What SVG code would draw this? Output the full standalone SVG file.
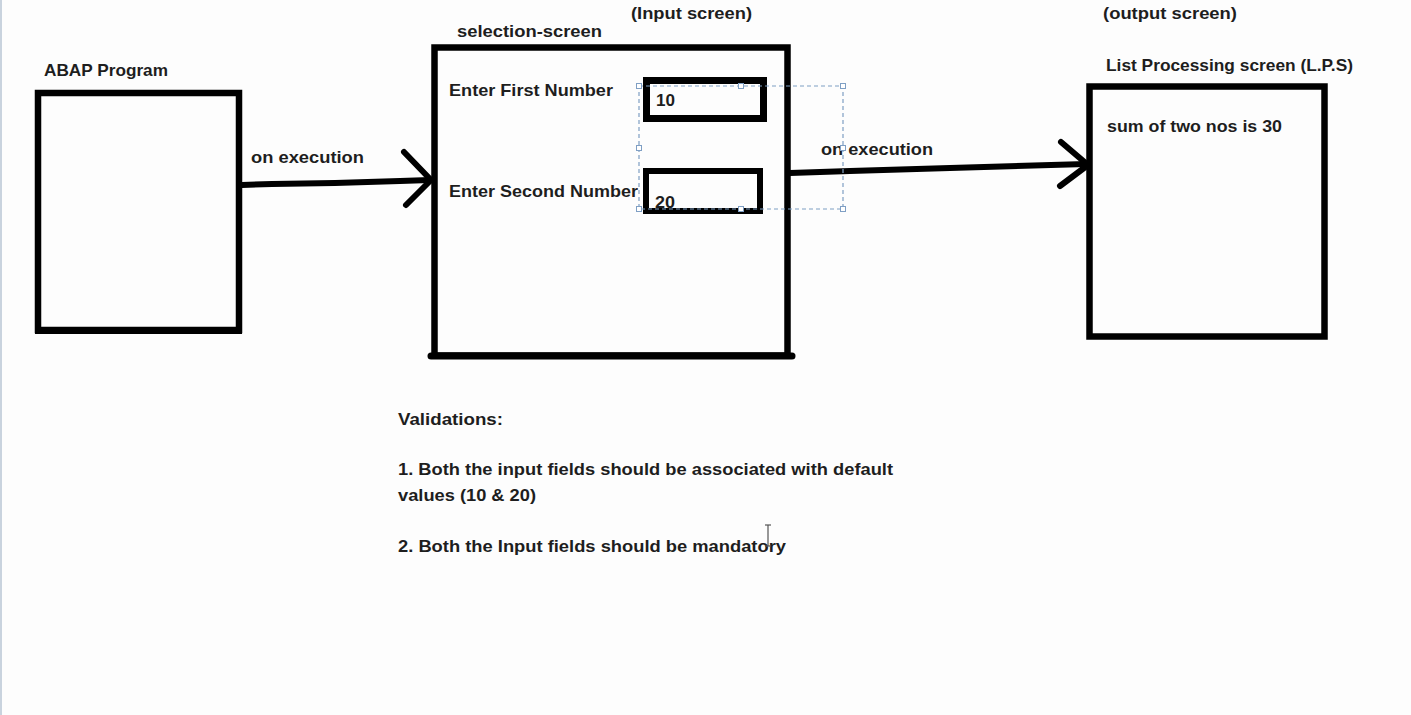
<svg xmlns="http://www.w3.org/2000/svg" width="1411" height="715" viewBox="0 0 1411 715">
<style>
.t{font-family:"Liberation Sans",Arial,sans-serif;font-weight:bold;font-size:16.5px;fill:#1e1e1e}
.box{fill:none;stroke:#000;stroke-width:6.5}
.con{fill:none;stroke:#000;stroke-width:6;stroke-linecap:round;stroke-linejoin:round}
.sel{fill:none;stroke:#7f9fc4;stroke-width:1.2;stroke-dasharray:4 3}
.h{fill:#fff;stroke:#7f9fc4;stroke-width:1}
</style>
<rect x="0" y="0" width="1411" height="715" fill="#fdfdfd"/>
<line x1="1" y1="0" x2="1" y2="715" stroke="#c9d3de" stroke-width="2"/>

<g id="abap-program">
<rect class="box" x="38" y="93" width="201" height="237"/>
<line x1="35" y1="330.5" x2="242" y2="330.5" stroke="#000" stroke-width="7"/>
<text class="t" x="44" y="76" textLength="124" lengthAdjust="spacingAndGlyphs">ABAP Program</text>
</g>

<g id="selection-screen">
<rect class="box" x="434.5" y="47.5" width="353" height="308"/>
<line x1="431" y1="356" x2="792" y2="356" stroke="#000" stroke-width="7" stroke-linecap="round"/>
<text class="t" x="457" y="37" textLength="145" lengthAdjust="spacingAndGlyphs">selection-screen</text>
<text class="t" x="631" y="19" textLength="121" lengthAdjust="spacingAndGlyphs">(Input screen)</text>
<text class="t" x="449" y="96" textLength="164" lengthAdjust="spacingAndGlyphs">Enter First Number</text>
<text class="t" x="449" y="197" textLength="189" lengthAdjust="spacingAndGlyphs">Enter Second Number</text>
</g>

<g id="input-first">
<rect x="646.5" y="80.5" width="117" height="38" fill="none" stroke="#000" stroke-width="7"/>
<text class="t" x="656" y="106" textLength="19" lengthAdjust="spacingAndGlyphs">10</text>
</g>

<g id="input-second">
<rect x="646" y="171" width="114" height="40" fill="none" stroke="#000" stroke-width="6"/>
<text class="t" x="655" y="208" textLength="20" lengthAdjust="spacingAndGlyphs">20</text>
</g>

<g id="list-processing-screen">
<rect class="box" x="1089.5" y="86.5" width="235" height="250"/>
<text class="t" x="1106" y="71" textLength="247" lengthAdjust="spacingAndGlyphs">List Processing screen (L.P.S)</text>
<text class="t" x="1103" y="19" textLength="134" lengthAdjust="spacingAndGlyphs">(output screen)</text>
<text class="t" x="1107" y="132" textLength="175" lengthAdjust="spacingAndGlyphs">sum of two nos is 30</text>
</g>

<g id="connectors">
<polyline class="con" points="242,185 272,184 335,183 400,181 430,180"/>
<polyline class="con" points="404,152 431,180 406,205"/>
<text class="t" x="251" y="163" textLength="113" lengthAdjust="spacingAndGlyphs">on execution</text>
<polyline class="con" points="790,173 850,171 950,168 1086,164"/>
<polyline class="con" points="1061,142 1088,165 1060,186"/>
<text class="t" x="821" y="155" textLength="112" lengthAdjust="spacingAndGlyphs">on execution</text>
</g>

<g id="selection-handles">
<rect class="sel" x="639" y="86" width="204" height="123"/>
<rect class="h" x="636.5" y="83.5" width="5" height="5"/>
<rect class="h" x="738.5" y="83.5" width="5" height="5"/>
<rect class="h" x="840.5" y="83.5" width="5" height="5"/>
<rect class="h" x="636.5" y="145.5" width="5" height="5"/>
<rect class="h" x="840.5" y="145.5" width="5" height="5"/>
<rect class="h" x="636.5" y="206.5" width="5" height="5"/>
<rect class="h" x="738.5" y="206.5" width="5" height="5"/>
<rect class="h" x="840.5" y="206.5" width="5" height="5"/>
</g>

<g id="validations">
<text class="t" x="398" y="425" textLength="105" lengthAdjust="spacingAndGlyphs">Validations:</text>
<text class="t" x="398" y="475" textLength="495" lengthAdjust="spacingAndGlyphs">1. Both the input fields should be associated with default</text>
<text class="t" x="398" y="501" textLength="138" lengthAdjust="spacingAndGlyphs">values (10 &amp; 20)</text>
<text class="t" x="398" y="552" textLength="388" lengthAdjust="spacingAndGlyphs">2. Both the Input fields should be mandatory</text>
</g>

<g id="cursor" stroke="#555" stroke-width="1.2" fill="none">
<line x1="768" y1="525" x2="768" y2="546"/>
<line x1="765" y1="525" x2="771" y2="525"/>
<line x1="765" y1="546" x2="771" y2="546"/>
</g>
</svg>
